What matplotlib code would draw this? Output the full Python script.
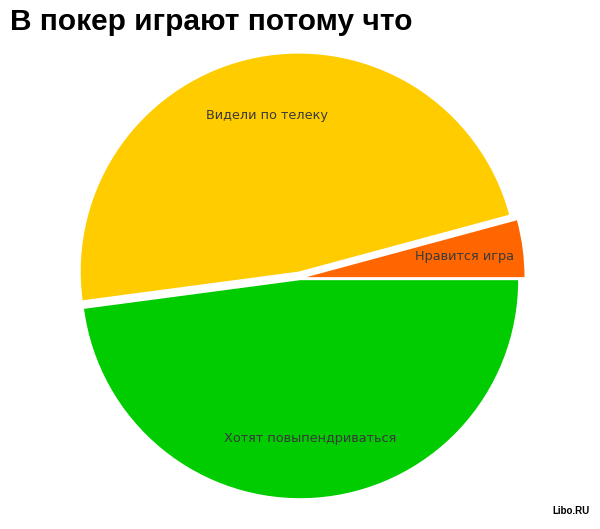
import matplotlib
matplotlib.use("Agg")
import matplotlib.pyplot as plt

labels = ["Нравится игра", "Видели по телеку", "Хотят повыпендриваться"]
values = [4.2, 47.9, 47.9]
colors = ["#FF6600", "#FFCC00", "#00CC00"]
explode = [0.03, 0.03, 0.01]

fig = plt.figure(figsize=(6, 5.29), dpi=100)
plt.rcParams['font.family'] = ['Liberation Sans', 'DejaVu Sans']

ax = fig.add_axes([82 / 600, 33 / 529, 436 / 600, 436 / 529])
wedges, texts = ax.pie(values, labels=labels, colors=colors, explode=explode,
                       startangle=0, counterclock=True, labeldistance=0.73,
                       wedgeprops=dict(linewidth=0),
                       textprops=dict(fontsize=9.3, family="DejaVu Sans",
                                      color="#3a3a3a", ha="center", va="center"))
ax.set_xlim(-1, 1)
ax.set_ylim(-1, 1)
ax.set_aspect("equal")

fig.text(10 / 600, 1 - 22 / 529, "В покер играют потому что", fontsize=21.5,
         fontweight="bold", ha="left", va="center")
fig.text(590 / 600, 1 - 511 / 529, "Libo.RU", fontsize=7, fontweight="bold",
         ha="right", va="center")

fig.savefig("out.png", dpi=100)
